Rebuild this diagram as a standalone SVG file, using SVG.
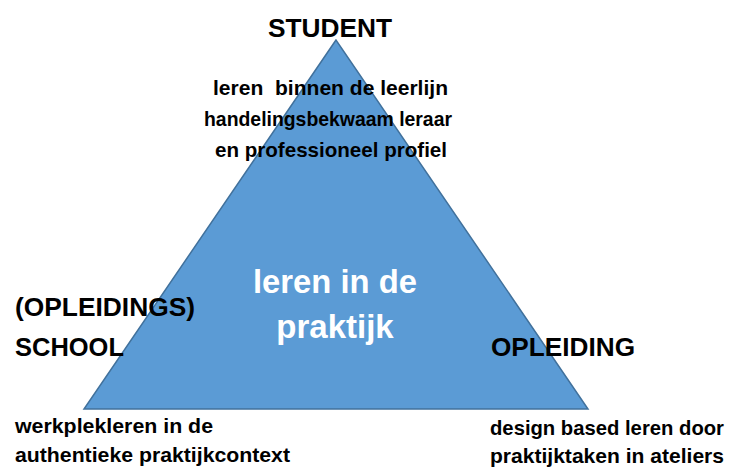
<svg xmlns="http://www.w3.org/2000/svg" width="731" height="468" viewBox="0 0 731 468">
<style>
text{font-family:"Liberation Sans",Arial,sans-serif;font-weight:bold;fill:#000}
.big{font-size:26.5px}
.sm{font-size:21px}
.mid{font-size:33px;fill:#fff}
</style>
<rect width="731" height="468" fill="#fff"/>
<g id="triangle">
<polygon points="336,40 84,409 588,409" fill="#5b9bd5" stroke="#41719c" stroke-width="1.5" stroke-linejoin="miter"/>
<text class="mid" x="335" y="293" text-anchor="middle" textLength="164" lengthAdjust="spacingAndGlyphs">leren in de</text>
<text class="mid" x="335" y="338" text-anchor="middle">praktijk</text>
</g>
<g id="student">
<text class="big" x="268" y="37" textLength="124" lengthAdjust="spacingAndGlyphs">STUDENT</text>
<text class="sm" x="213" y="95" textLength="235" lengthAdjust="spacingAndGlyphs" xml:space="preserve">leren  binnen de leerlijn</text>
<text class="sm" x="204" y="126" textLength="248" lengthAdjust="spacingAndGlyphs">handelingsbekwaam leraar</text>
<text class="sm" x="215" y="157" textLength="232" lengthAdjust="spacingAndGlyphs">en professioneel profiel</text>
</g>
<g id="school">
<text class="big" x="15" y="316" textLength="180" lengthAdjust="spacingAndGlyphs">(OPLEIDINGS)</text>
<text class="big" x="15" y="356" textLength="109" lengthAdjust="spacingAndGlyphs">SCHOOL</text>
<text class="sm" x="15" y="433" textLength="198" lengthAdjust="spacingAndGlyphs">werkplekleren in de</text>
<text class="sm" x="15" y="462" textLength="275" lengthAdjust="spacingAndGlyphs">authentieke praktijkcontext</text>
</g>
<g id="opleiding">
<text class="big" x="491" y="356" textLength="144" lengthAdjust="spacingAndGlyphs">OPLEIDING</text>
<text class="sm" x="490" y="435" textLength="234" lengthAdjust="spacingAndGlyphs">design based leren door</text>
<text class="sm" x="490" y="463" textLength="234" lengthAdjust="spacingAndGlyphs">praktijktaken in ateliers</text>
</g>
<g id="connectors"/>
</svg>
